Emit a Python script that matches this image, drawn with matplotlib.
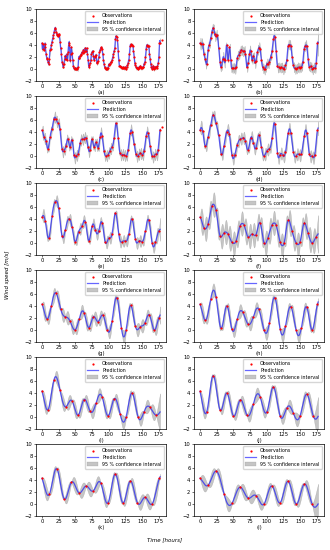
import matplotlib

matplotlib.use("Agg")

import matplotlib.pyplot as plt  # noqa: E402
import numpy as np  # noqa: E402

# hourly wind speed (m/s), hours 0..177
WIND = [
    4.3, 3.3, 4.1, 3.2, 4.2, 3.6, 2.5, 1.9, 1.6, 1.2,
    0.8, 1.6, 3.1, 3.4, 4.0, 4.5, 5.1, 5.6, 6.2, 6.6,
    6.9, 6.2, 5.9, 5.6, 5.5, 5.8, 5.6, 4.5, 3.5, 2.5,
    1.2, 0.8, 0.3, 0.9, 1.6, 2.2, 1.7, 2.5, 1.5, 2.8,
    4.0, 4.3, 1.5, 2.5, 3.6, 2.7, 1.5, 0.5, 0.1, 0.0,
    0.2, 0.0, 0.1, 0.0, 0.3, 1.9, 1.9, 2.1, 2.3, 2.5,
    2.8, 2.7, 3.2, 2.9, 3.0, 3.5, 3.0, 3.5, 2.5, 1.5,
    0.4, 0.6, 1.0, 1.5, 2.5, 2.8, 3.0, 2.2, 1.5, 2.0,
    2.2, 2.3, 1.2, 1.0, 1.4, 2.0, 2.8, 3.2, 3.5, 3.6,
    3.4, 2.5, 1.5, 0.8, 0.3, 0.1, 0.0, 0.1, 0.0, 0.2,
    0.8, 0.6, 0.9, 1.1, 1.2, 1.5, 2.0, 2.5, 3.0, 3.5,
    5.0, 5.5, 5.4, 4.8, 3.0, 1.5, 0.5, 0.5, 0.3, 0.3,
    0.2, 0.2, 0.3, 0.2, 0.1, 0.3, 0.0, 0.4, 0.6, 1.0,
    1.5, 2.5, 3.8, 4.1, 4.0, 4.0, 3.9, 3.0, 2.0, 1.0,
    0.6, 0.3, 0.1, 0.2, 0.0, 0.3, 0.2, 0.5, 0.3, 0.1,
    0.2, 0.3, 0.4, 0.9, 1.1, 2.0, 3.3, 4.0, 3.9, 3.8,
    3.8, 2.5, 1.6, 0.8, 0.3, 0.0, 0.5, 0.2, 0.0, 0.4,
    0.1, 0.3, 0.2, 0.5, 1.0, 2.0, 4.3, 4.4,
]
# extra held-out observation shown in (a) and (c)
EXTRA_HOUR = 180
EXTRA_VALUE = 4.9

PANELS = ["(a)", "(b)", "(c)", "(d)", "(e)", "(f)",
          "(g)", "(h)", "(i)", "(j)", "(k)", "(l)"]
STEPS = [1, 2, 3, 4, 5, 6, 7, 8, 9, 10, 11, 12]
# GP length scale per panel (hours)
LSCALE = [1.1, 1.6, 2.3, 3.0, 3.8, 3.4, 5.1, 5.8, 6.6, 7.3, 8.0, 8.8]
XTICKS = [0, 25, 50, 75, 100, 125, 150, 175]
YTICKS = [-2, 0, 2, 4, 6, 8, 10]


def gp_fit(xo, yo, xs, ell, sf=2.2, sn=0.1):
    mu = yo.mean()
    k = lambda a, b: sf ** 2 * np.exp(-0.5 * (a[:, None] - b[None, :]) ** 2 / ell ** 2)
    K = k(xo, xo) + sn ** 2 * np.eye(len(xo))
    Ks = k(xs, xo)
    L = np.linalg.cholesky(K)
    alpha = np.linalg.solve(L.T, np.linalg.solve(L, yo - mu))
    mean = mu + Ks @ alpha
    v = np.linalg.solve(L, Ks.T)
    var = np.clip(sf ** 2 - (v ** 2).sum(0), 0, None)
    return mean, np.sqrt(var)


plt.rcParams.update({"font.family": "DejaVu Sans", "font.size": 3.8})
fig = plt.figure(figsize=(3.3, 5.5), dpi=100)

wind = np.array(WIND)
hours = np.arange(len(wind), dtype=float)
xs = np.linspace(0, hours[-1], 700)

W, H = 330.0, 550.0
for i, (lab, step, ell) in enumerate(zip(PANELS, STEPS, LSCALE)):
    col, row = i % 2, i // 2
    left = (36 if col == 0 else 194) / W
    top = 9 + 87 * row
    ax = fig.add_axes([left, 1 - (top + 72) / H, 130 / W, 72 / H])
    ax.patch.set_alpha(0)

    xo, yo = hours[::step], wind[::step]
    mean, sd = gp_fit(xo, yo, xs, ell)

    ox, oy = list(xo), list(yo)
    if lab in ("(a)", "(c)"):
        ox.append(EXTRA_HOUR)
        oy.append(EXTRA_VALUE)
    ax.plot(ox, oy, "r.", ms=3.2, mew=0, label="Observations", zorder=4)
    ax.plot(xs, mean, color="blue", alpha=0.6, lw=0.9, label="Prediction", zorder=3)
    ax.fill_between(xs, mean - 1.96 * sd, mean + 1.96 * sd, fc="grey", alpha=0.45,
                    ec="grey", lw=0.3, label="95 % confidence interval", zorder=2)

    ax.set_xlim(-8.85, 185.85)
    ax.set_ylim(-2, 10)
    ax.set_xticks(XTICKS)
    ax.set_yticks(YTICKS)
    ax.tick_params(labelsize=3.8, length=1.5, width=0.4, pad=1)
    for sp in ax.spines.values():
        sp.set_linewidth(0.5)
    ax.set_xlabel(lab, fontsize=3.8, labelpad=0.7)
    ax.legend(loc="upper right", fontsize=3.4, handlelength=2.4, borderpad=0.45,
              labelspacing=0.35, handletextpad=0.8, frameon=True, framealpha=0.8)

fig.text(8 / W, 0.5, "Wind speed [m/s]", rotation=90, ha="center", va="center",
         fontsize=4, style="italic")
fig.text(165 / W, 1 - 540 / H, "Time [hours]", ha="center", va="center",
         fontsize=4, style="italic")

fig.savefig("out.png", dpi=100)
